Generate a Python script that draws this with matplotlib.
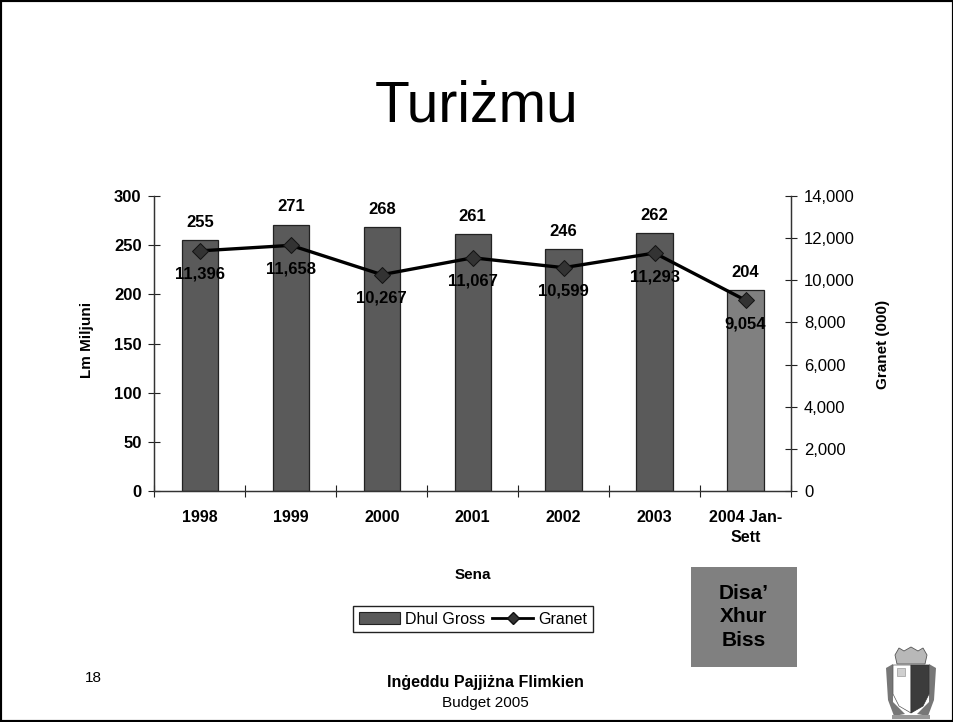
"""Turizmu slide: tourism earnings (bars) and guest nights (line), 1998-2004."""

import matplotlib

matplotlib.use("Agg")  # headless
import matplotlib.pyplot as plt
from matplotlib.lines import Line2D
from matplotlib.patches import Patch, Polygon, Rectangle

# ---------- Data --------------------------------------------------------------

YEARS = ["1998", "1999", "2000", "2001", "2002", "2003", "2004 Jan-\nSett"]
DHUL_GROSS = [255, 271, 268, 261, 246, 262, 204]
GRANET = [11396, 11658, 10267, 11067, 10599, 11293, 9054]
LEFT_TICKS = [0, 50, 100, 150, 200, 250, 300]
RIGHT_TICKS = [0, 2000, 4000, 6000, 8000, 10000, 12000, 14000]

# ---------- Style -------------------------------------------------------------

W, H = 954, 722
BAR_DARK = "#5a5a5a"
BAR_LIGHT = "#808080"
plt.rcParams["font.family"] = ["Liberation Sans", "DejaVu Sans"]


def px(x, y):
    """Pixel position (origin top left) to figure fraction."""
    return x / W, 1 - y / H


fig = plt.figure(figsize=(W / 100, H / 100), dpi=100)
fig.patch.set_facecolor("white")

# slide frame
fig.add_artist(Rectangle((0, 0), 1, 1, transform=fig.transFigure, fill=False,
                         edgecolor="black", linewidth=3))

# ---------- Chart -------------------------------------------------------------

left, top = px(154.5, 196)
right, bottom = px(791, 491)
ax = fig.add_axes([left, bottom, right - left, top - bottom])
ax2 = ax.twinx()

xs = list(range(len(YEARS)))
colors = [BAR_DARK] * 6 + [BAR_LIGHT]
ax.bar(xs, DHUL_GROSS, width=0.4, color=colors, edgecolor="#222222", linewidth=0.9)
ax2.plot(xs, GRANET, color="black", linewidth=2.4, marker="D", markersize=8,
         markerfacecolor="#333333", markeredgecolor="#111111", markeredgewidth=0.7)

ax.set_xlim(-0.5, len(YEARS) - 0.5)
ax.set_ylim(0, 300)
ax2.set_ylim(0, 14000)

for x, v in zip(xs, DHUL_GROSS):
    ax.annotate(str(v), (x, v), xytext=(0, 13), textcoords="offset points",
                ha="center", va="center", fontsize=12, fontweight="bold")
for x, v in zip(xs, GRANET):
    ax2.annotate(f"{v:,}", (x, v), xytext=(0, -17), textcoords="offset points",
                 ha="center", va="center", fontsize=12, fontweight="bold")

ax.set_xticks([i - 0.5 for i in range(len(YEARS) + 1)], labels=[""] * (len(YEARS) + 1))
ax.tick_params(axis="x", length=8.6, width=0.8, direction="inout", color="#222222")
for x, label in zip(xs, YEARS):
    ax.annotate(label, (x, 0), xytext=(0, -14), textcoords="offset points",
                ha="center", va="top", fontsize=11.5, fontweight="bold", linespacing=1.35)

ax.set_yticks(LEFT_TICKS)
ax.set_yticklabels([str(t) for t in LEFT_TICKS], fontsize=12, fontweight="bold")
ax.tick_params(axis="y", length=8.6, width=0.8, direction="inout", pad=5, color="#222222")
ax2.set_yticks(RIGHT_TICKS)
ax2.set_yticklabels([f"{t:,}" for t in RIGHT_TICKS], fontsize=12)
ax2.tick_params(axis="y", length=8.6, width=0.8, direction="inout", pad=5, color="#222222")

for a in (ax, ax2):
    a.spines["top"].set_visible(False)
    a.patch.set_visible(False)
    for side in ("left", "right", "bottom"):
        a.spines[side].set_linewidth(0.9)
        a.spines[side].set_color("#333333")

# ---------- Slide text --------------------------------------------------------

def text_at(x, y, s, **kw):
    kw.setdefault("ha", "center")
    kw.setdefault("va", "center")
    fig.text(*px(x, y), s, **kw)


text_at(477, 106, "Turiżmu", fontsize=41)
text_at(87, 340, "Lm Miljuni", fontsize=11, fontweight="bold", rotation=90)
text_at(883, 344, "Granet (000)", fontsize=11, fontweight="bold", rotation=90)
text_at(473, 575, "Sena", fontsize=11, fontweight="bold")
text_at(93, 678, "18", fontsize=11)
text_at(485, 682, "Inġeddu Pajjiżna Flimkien", fontsize=11.5, fontweight="bold")
text_at(485, 703, "Budget 2005", fontsize=11)

# grey note box
x0, y0 = px(691, 667)
x1, y1 = px(797, 567)
fig.add_artist(Rectangle((x0, y0), x1 - x0, y1 - y0, transform=fig.transFigure,
                         facecolor=BAR_LIGHT, edgecolor="none"))
text_at(744, 617, "Disa’\nXhur\nBiss", fontsize=15, fontweight="bold", linespacing=1.3)

# legend
handles = [
    Patch(facecolor=BAR_DARK, edgecolor="#222222", linewidth=0.8),
    Line2D([], [], color="black", linewidth=2, marker="D", markersize=6,
           markerfacecolor="#333333", markeredgecolor="#111111"),
]
fig.legend(handles, ["Dhul Gross", "Granet"], loc="center", bbox_to_anchor=px(473, 619),
           ncol=2, fontsize=11.5, frameon=True, fancybox=False, framealpha=1,
           edgecolor="#222222", columnspacing=0.4, handletextpad=0.3, handlelength=2.6,
           borderpad=0.35, borderaxespad=0)

# ---------- Crest (rough drawing of the Malta emblem) -------------------------

def poly(points, **kw):
    fig.add_artist(Polygon([px(*p) for p in points], closed=True,
                           transform=fig.transFigure, **kw))


poly([(895, 655), (899, 648), (904, 651), (911, 647), (918, 651), (923, 648), (927, 655), (925, 664), (897, 664)],
     facecolor="#b8b8b8", edgecolor="#555555", linewidth=0.6)
poly([(886, 668), (893, 664), (893, 702), (905, 714), (894, 716), (888, 700)], facecolor="#777777", edgecolor="none")
poly([(936, 668), (929, 664), (929, 702), (917, 714), (928, 716), (934, 700)], facecolor="#777777", edgecolor="none")
poly([(893, 665), (911, 665), (911, 713), (899, 706), (893, 694)], facecolor="white", edgecolor="#555555", linewidth=0.5)
poly([(911, 665), (929, 665), (929, 694), (923, 706), (911, 713)], facecolor="#3c3c3c", edgecolor="#333333", linewidth=0.5)
poly([(897, 668), (905, 668), (905, 676), (897, 676)], facecolor="#cfcfcf", edgecolor="#888888", linewidth=0.4)
poly([(892, 715), (930, 715), (930, 719), (892, 719)], facecolor="#999999", edgecolor="none")

fig.savefig("out.png", dpi=100)
plt.close(fig)
